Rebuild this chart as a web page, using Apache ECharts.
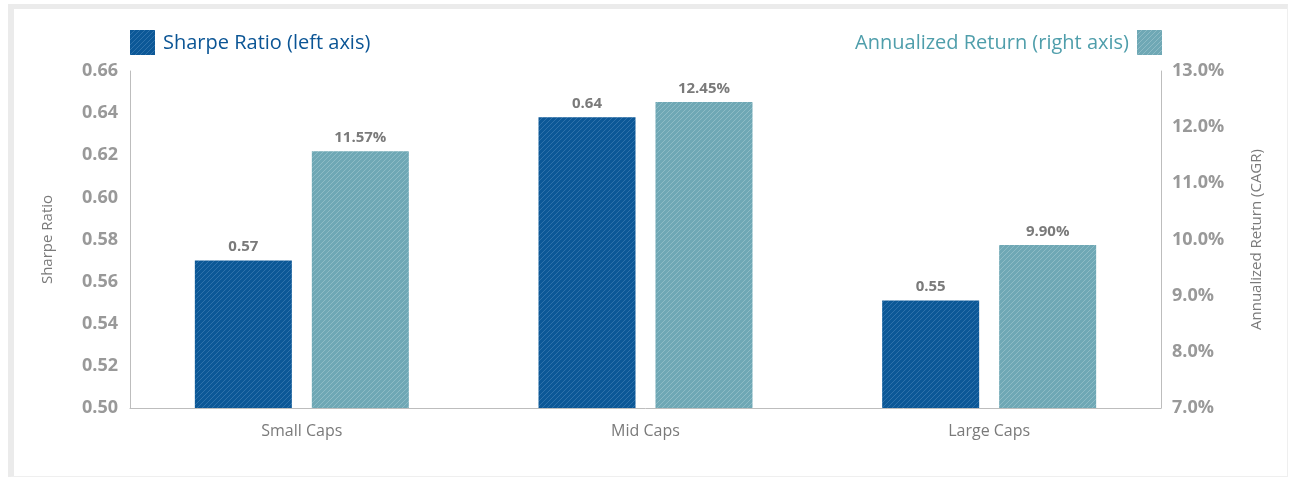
<!DOCTYPE html>
<html><head><meta charset="utf-8">
<script src="https://cdn.jsdelivr.net/npm/echarts@6/dist/echarts.min.js"></script>
<style>
html,body{margin:0;padding:0;background:#fff;}
#frame{position:absolute;left:8px;top:4px;width:1273px;height:467px;border-left:6px solid #ebebeb;border-top:5px solid #ebebeb;border-right:1px solid #efefef;border-bottom:1px solid #efefef;}
#c{position:absolute;left:0;top:0;width:1289px;height:478px;}
</style></head>
<body>
<div id="frame"></div>
<div id="c"></div>
<script>
const categories = ['Small Caps', 'Mid Caps', 'Large Caps'];
const sharpeRatio = [0.57, 0.638, 0.551];
const sharpeLabels = ['0.57', '0.64', '0.55'];
const annualReturn = [11.57, 12.45, 9.90];
const returnLabels = ['11.57%', '12.45%', '9.90%'];
const leftTicks = ['0.50','0.52','0.54','0.56','0.58','0.60','0.62','0.64','0.66'];
const rightTicks = ['7.0%','8.0%','9.0%','10.0%','11.0%','12.0%','13.0%'];

function hatch(base, line) {
  const cv = document.createElement('canvas');
  cv.width = 5; cv.height = 5;
  const ctx = cv.getContext('2d');
  ctx.fillStyle = base; ctx.fillRect(0,0,5,5);
  ctx.strokeStyle = line; ctx.lineWidth = 0.8;
  ctx.beginPath();
  ctx.moveTo(-1,6); ctx.lineTo(6,-1);
  ctx.moveTo(-1,1); ctx.lineTo(1,-1);
  ctx.moveTo(4,6); ctx.lineTo(6,4);
  ctx.stroke();
  return {image: cv, repeat: 'repeat'};
}
const blueFill = hatch('#0c5897', 'rgba(110,160,205,0.45)');
const tealFill = hatch('#6fa8b5', 'rgba(195,220,226,0.45)');

const FONT = '"Open Sans", "Noto Sans", sans-serif';
const chart = echarts.init(document.getElementById('c'));
chart.setOption({
  animation: false,
  grid: {left: 130, right: 128, top: 71, bottom: 70},
  legend: {show: false},
  graphic: [
    {type:'rect', left:130, top:30, shape:{width:25,height:25}, style:{fill: blueFill}},
    {type:'text', left:163, top:33, style:{text:'Sharpe Ratio (left axis)', fill:'#0b5595', font:'20px ' + FONT}},
    {type:'rect', left:1137, top:30, shape:{width:25,height:25}, style:{fill: tealFill}},
    {type:'text', right:1289-1129, top:33, style:{text:'Annualized Return (right axis)', fill:'#4f9eab', font:'20px ' + FONT, textAlign:'right'}}
  ],
  xAxis: {
    type: 'category', data: categories,
    axisLine: {lineStyle: {color: '#bdbdbd'}},
    axisTick: {show: false},
    axisLabel: {color: '#7a7a7a', fontSize: 16, fontFamily: FONT, margin: 15}
  },
  yAxis: [
    {type: 'value', min: 0.50, max: 0.66, interval: 0.02,
     name: 'Sharpe Ratio', nameLocation: 'middle', nameGap: 75, nameRotate: 90,
     nameTextStyle: {color: '#7a7a7a', fontSize: 15, fontFamily: FONT},
     axisLine: {show: true, lineStyle: {color: '#bdbdbd'}},
     axisTick: {show: false}, splitLine: {show: false},
     axisLabel: {color: '#999', fontSize: 18, fontWeight: 'bold', fontFamily: FONT, margin: 12,
       formatter: (v) => leftTicks[Math.round((v - 0.50) / 0.02)]}},
    {type: 'value', min: 7, max: 13, interval: 1, position: 'right',
     name: 'Annualized Return (CAGR)', nameLocation: 'middle', nameGap: 88, nameRotate: 90,
     nameTextStyle: {color: '#7a7a7a', fontSize: 15, fontFamily: FONT},
     axisLine: {show: true, lineStyle: {color: '#bdbdbd'}},
     axisTick: {show: false}, splitLine: {show: false},
     axisLabel: {color: '#999', fontSize: 18, fontWeight: 'bold', fontFamily: FONT, margin: 11,
       formatter: (v) => rightTicks[Math.round(v - 7)]}}
  ],
  series: [
    {type: 'bar', name: 'Sharpe Ratio (left axis)', yAxisIndex: 0, data: sharpeRatio,
     barWidth: 97, barGap: '20.6%', itemStyle: {color: blueFill},
     label: {show: true, position: 'top', distance: 6, color: '#7a7a7a', fontSize: 15, fontWeight: 'bold', fontFamily: FONT,
       formatter: (p) => sharpeLabels[p.dataIndex]}},
    {type: 'bar', name: 'Annualized Return (right axis)', yAxisIndex: 1, data: annualReturn,
     barWidth: 97, itemStyle: {color: tealFill},
     label: {show: true, position: 'top', distance: 6, color: '#7a7a7a', fontSize: 15, fontWeight: 'bold', fontFamily: FONT,
       formatter: (p) => returnLabels[p.dataIndex]}}
  ]
});
</script>
</body></html>
